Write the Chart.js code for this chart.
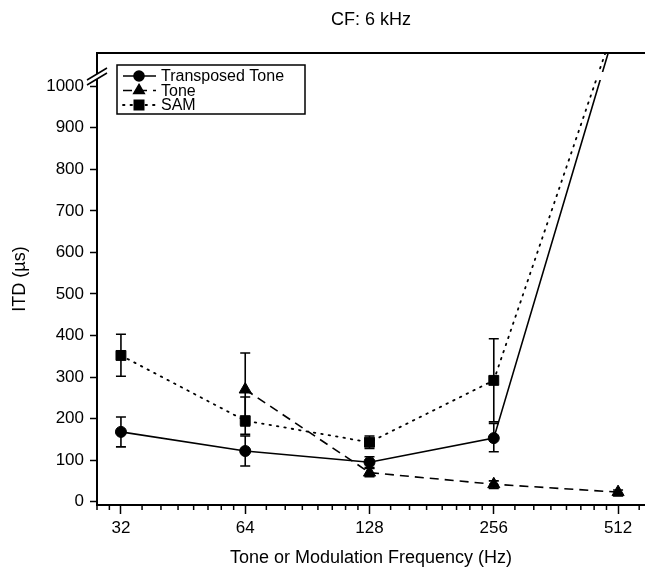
<!DOCTYPE html>
<html><head><meta charset="UTF-8">
<title>CF: 6 kHz</title>
<script src="https://cdn.jsdelivr.net/npm/chart.js@4/dist/chart.umd.min.js"></script>
<style>
  html, body { margin: 0; padding: 0; background: #fff; }
  #wrap { width: 645px; height: 573px; }
</style>
</head>
<body>
<div id="wrap"><canvas id="itd-chart" width="645" height="573"></canvas></div>
<script>
// values (ITD in microseconds)
var freqs = [32, 64, 128, 256, 512];
var xTickValues = [32, 64, 128, 256, 512];
var yTickValues = [0, 100, 200, 300, 400, 500, 600, 700, 800, 900, 1000];

// Transposed Tone (last point is off scale, above the break)
var transposed   = [168, 122, 95, 153, 1160];
var transposedLo = [132, 86, 82, 120, null];
var transposedHi = [204, 158, 108, 188, null];

// Tone (no value at 32 Hz)
var tone   = [null, 270, 70, 42, 23];
var toneLo = [null, 182, 60, 32, 14];
var toneHi = [null, 358, 80, 50, 28];

// SAM (last point off scale)
var sam   = [352, 195, 143, 292, 1170];
var samLo = [302, 162, 128, 192, null];
var samHi = [403, 252, 158, 392, null];

var yMin = -8, yMax = 1080;

function points(vals, lo, hi) {
  var out = [];
  vals.forEach(function(v, i) {
    if (v === null) return;
    out.push({ x: freqs[i], y: v, lo: lo[i], hi: hi[i] });
  });
  return out;
}
// hide markers that sit above the axis max
function radiusFor(r) {
  return function(ctx) {
    var p = ctx.raw;
    return p && p.y > yMax ? 0 : r;
  };
}

var errorBars = {
  id: 'errorBars',
  beforeDatasetsDraw: function(chart) {
    var ctx = chart.ctx, xs = chart.scales.x, ys = chart.scales.y;
    ctx.save();
    ctx.strokeStyle = '#000';
    ctx.lineWidth = 1.6;
    chart.data.datasets.forEach(function(ds) {
      ds.data.forEach(function(p) {
        if (p.lo == null || p.hi == null) return;
        var x = xs.getPixelForValue(p.x);
        var y1 = ys.getPixelForValue(p.lo), y2 = ys.getPixelForValue(p.hi);
        ctx.beginPath();
        ctx.moveTo(x, y1); ctx.lineTo(x, y2);
        ctx.moveTo(x - 5, y1); ctx.lineTo(x + 5, y1);
        ctx.moveTo(x - 5, y2); ctx.lineTo(x + 5, y2);
        ctx.stroke();
      });
    });
    ctx.restore();
  }
};

var frameAndLegend = {
  id: 'frameAndLegend',
  afterDraw: function(chart) {
    var ctx = chart.ctx, a = chart.chartArea, xs = chart.scales.x;
    ctx.save();
    // top frame line
    ctx.strokeStyle = '#000';
    ctx.lineWidth = 2;
    ctx.beginPath();
    ctx.moveTo(a.left, a.top); ctx.lineTo(chart.width, a.top);
    ctx.moveTo(a.right, a.bottom); ctx.lineTo(chart.width, a.bottom);
    ctx.stroke();

    // minor ticks on the log x axis (8 per octave)
    ctx.lineWidth = 1.5;
    ctx.beginPath();
    for (var k = 0; k < xTickValues.length + 1; k++) {
      var base = k === 0 ? xTickValues[0] / 2 : xTickValues[k - 1];
      for (var j = 1; j < 8; j++) {
        var v = base + j * base / 8;
        var px = xs.getPixelForValue(v);
        if (px < a.left || px > chart.width) continue;
        ctx.moveTo(px, a.bottom); ctx.lineTo(px, a.bottom + 5);
      }
    }
    ctx.stroke();

    // break in the data lines above 1000
    ctx.fillStyle = '#fff';
    ctx.fillRect(560, 72, 80, 8);
    // axis break on the left axis
    ctx.beginPath();
    ctx.moveTo(87, 80); ctx.lineTo(107, 68); ctx.lineTo(107, 73); ctx.lineTo(87, 85);
    ctx.closePath();
    ctx.fill();
    ctx.lineWidth = 1.5;
    ctx.beginPath();
    ctx.moveTo(87, 80); ctx.lineTo(107, 68);
    ctx.moveTo(87, 85); ctx.lineTo(107, 73);
    ctx.stroke();

    // legend
    var bx = 117, by = 65, bw = 188, bh = 49;
    ctx.fillStyle = '#fff';
    ctx.fillRect(bx, by, bw, bh);
    ctx.lineWidth = 1.5;
    ctx.strokeRect(bx, by, bw, bh);
    ctx.font = '16px "Liberation Sans", Arial, sans-serif';
    ctx.textBaseline = 'middle';
    chart.data.datasets.forEach(function(ds, i) {
      var y = by + 11 + i * 14.5;
      ctx.strokeStyle = '#000';
      ctx.lineWidth = ds.borderWidth;
      ctx.setLineDash(ds.borderDash || []);
      ctx.lineCap = ds.borderCapStyle || 'butt';
      ctx.beginPath();
      ctx.moveTo(bx + 6, y); ctx.lineTo(bx + 39, y);
      ctx.stroke();
      ctx.setLineDash([]);
      ctx.fillStyle = '#000';
      Chart.helpers.drawPoint(ctx, {
        pointStyle: ds.pointStyle, radius: ds.legendRadius, borderWidth: 1, rotation: 0
      }, bx + 22, y);
      ctx.fillText(ds.label, bx + 44, y + 1);
    });
    ctx.restore();
  }
};

new Chart(document.getElementById('itd-chart'), {
  type: 'line',
  data: {
    datasets: [
      {
        label: 'Transposed Tone',
        data: points(transposed, transposedLo, transposedHi),
        borderColor: '#000', backgroundColor: '#000',
        borderWidth: 1.6,
        pointStyle: 'circle', pointRadius: radiusFor(5.5), legendRadius: 5,
        pointBorderWidth: 1
      },
      {
        label: 'Tone',
        data: points(tone, toneLo, toneHi),
        borderColor: '#000', backgroundColor: '#000',
        borderWidth: 1.6, borderDash: [9, 6],
        pointStyle: 'triangle', pointRadius: radiusFor(7), legendRadius: 6,
        pointBorderWidth: 1
      },
      {
        label: 'SAM',
        data: points(sam, samLo, samHi),
        borderColor: '#000', backgroundColor: '#000',
        borderWidth: 1.8, borderDash: [1.5, 6], borderCapStyle: 'round',
        pointStyle: 'rect', pointRadius: radiusFor(7), legendRadius: 6.5,
        pointBorderWidth: 1
      }
    ]
  },
  options: {
    responsive: false,
    animation: false,
    layout: { padding: 0, autoPadding: false },
    plugins: {
      legend: { display: false },
      tooltip: { enabled: false },
      title: {
        display: true,
        fullSize: false,
        text: 'CF: 6 kHz',
        color: '#000',
        font: { family: '"Liberation Sans", Arial, sans-serif', size: 18, weight: 'normal' },
        padding: { top: 9, bottom: 22.4 }
      }
    },
    scales: {
      x: {
        type: 'logarithmic',
        min: 28, max: 595,
        afterBuildTicks: function(scale) {
          scale.ticks = xTickValues.map(function(v) { return { value: v }; });
        },
        afterFit: function(scale) {
          scale.height = 68;
          scale.paddingLeft = 0;
          scale.paddingRight = 0;
        },
        ticks: {
          autoSkip: false, maxRotation: 0, padding: 4, color: '#000',
          font: { family: '"Liberation Sans", Arial, sans-serif', size: 17 },
          callback: function(v) { return String(v); }
        },
        grid: { drawOnChartArea: false, tickLength: 9, tickWidth: 1.5, tickColor: '#000' },
        border: { display: true, color: '#000', width: 2 },
        title: {
          display: true,
          text: 'Tone or Modulation Frequency (Hz)',
          color: '#000',
          font: { family: '"Liberation Sans", Arial, sans-serif', size: 18 },
          padding: { top: 0, bottom: 4 }
        }
      },
      y: {
        min: yMin, max: yMax,
        afterBuildTicks: function(scale) {
          scale.ticks = yTickValues.map(function(v) { return { value: v }; });
        },
        afterFit: function(scale) { scale.width = 97; },
        ticks: {
          padding: 6, color: '#000',
          font: { family: '"Liberation Sans", Arial, sans-serif', size: 17 },
          callback: function(v) { return String(v); }
        },
        grid: { drawOnChartArea: false, tickLength: 7, tickWidth: 1.5, tickColor: '#000' },
        border: { display: true, color: '#000', width: 2 },
        title: {
          display: true,
          text: 'ITD (µs)',
          color: '#000',
          font: { family: '"Liberation Sans", Arial, sans-serif', size: 18 },
          padding: { top: 9, bottom: 10 }
        }
      }
    }
  },
  plugins: [errorBars, frameAndLegend]
});
</script>
</body></html>
